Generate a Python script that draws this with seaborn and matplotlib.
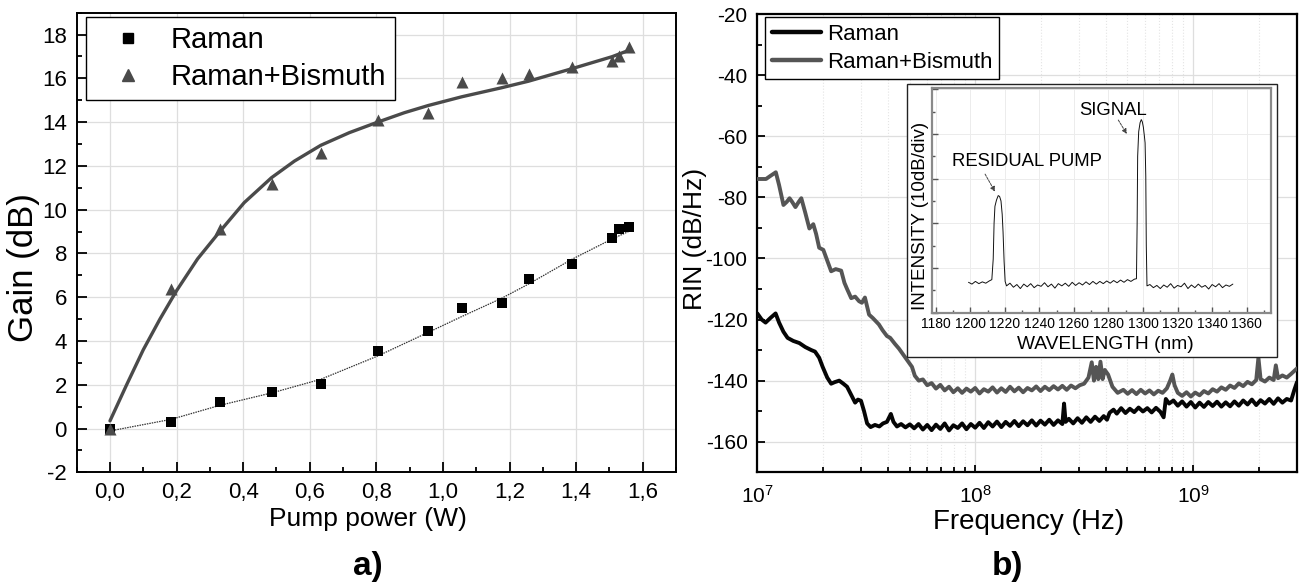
import numpy as np
import matplotlib
matplotlib.use("Agg")
import matplotlib.pyplot as plt
import seaborn as sns
from matplotlib.lines import Line2D
from matplotlib.patches import Rectangle
from matplotlib.ticker import MultipleLocator, FuncFormatter, LogLocator, LogFormatterMathtext, NullFormatter

# ---------------- data: panel a) ----------------
pump_power = [0.0, 0.184, 0.33, 0.487, 0.633, 0.805, 0.955, 1.057, 1.176, 1.257, 1.387, 1.508, 1.529, 1.559]
gain_raman = [0.0, 0.31, 1.22, 1.69, 2.02, 3.53, 4.44, 5.50, 5.74, 6.82, 7.50, 8.71, 9.10, 9.22]
gain_raman_bismuth = [0.0, 6.39, 9.13, 11.19, 12.60, 14.09, 14.43, 15.83, 16.01, 16.21, 16.53, 16.80, 17.00, 17.44]

fit_bi_x = [0.0, 0.05, 0.1, 0.15, 0.2, 0.263, 0.327, 0.403, 0.485, 0.554, 0.633, 0.719,
            0.804, 0.884, 0.956, 1.057, 1.176, 1.257, 1.387, 1.508, 1.56]
fit_bi_y = [0.35, 2.0, 3.6, 5.0, 6.3, 7.75, 8.95, 10.32, 11.46, 12.22, 12.94, 13.52,
            14.0, 14.43, 14.76, 15.16, 15.57, 15.87, 16.44, 16.99, 17.29]
fit_r_x = [0.0, 0.184, 0.33, 0.489, 0.633, 0.805, 0.954, 1.057, 1.176, 1.257, 1.387, 1.508, 1.56]
fit_r_y = [-0.11, 0.42, 1.06, 1.64, 2.25, 3.32, 4.38, 5.12, 5.95, 6.6, 7.73, 8.66, 9.02]

x_ticks_a = [0.0, 0.2, 0.4, 0.6, 0.8, 1.0, 1.2, 1.4, 1.6]
y_ticks_a = [-2, 0, 2, 4, 6, 8, 10, 12, 14, 16, 18]

# ---------------- data: panel b) (log10 frequency, RIN dB/Hz) ----------------
rin_bismuth_pts = [
    (7.00, -74.0), (7.04, -74.0), (7.06, -73.0), (7.085, -71.8), (7.10, -76.0), (7.12, -82.5),
    (7.135, -81.5), (7.148, -80.3), (7.16, -81.5), (7.175, -83.2), (7.19, -81.5), (7.202, -80.3),
    (7.22, -85.0), (7.239, -90.2), (7.257, -88.8), (7.27, -92.0), (7.284, -96.5), (7.303, -97.2),
    (7.32, -100.5), (7.339, -104.2), (7.36, -103.5), (7.385, -104.0), (7.40, -108.0), (7.412, -110.0),
    (7.431, -113.0), (7.449, -112.5), (7.467, -114.0), (7.48, -114.5), (7.494, -112.8), (7.513, -118.4),
    (7.53, -119.5), (7.558, -121.6), (7.575, -123.5), (7.595, -125.4), (7.61, -126.0), (7.632, -128.0),
    (7.65, -129.5), (7.668, -131.3), (7.68, -132.5), (7.695, -134.0), (7.71, -135.5), (7.723, -138.4),
    (7.741, -140.0), (7.76, -139.6), (7.78, -141.5), (7.80, -140.8), (7.82, -142.6), (7.84, -141.4),
    (7.86, -143.2), (7.88, -142.0), (7.90, -143.8), (7.92, -142.5), (7.94, -144.0), (7.96, -142.6),
    (7.98, -143.6), (8.00, -142.4), (8.02, -144.2), (8.04, -142.8), (8.06, -143.6), (8.08, -142.2),
    (8.10, -143.9), (8.12, -142.5), (8.14, -143.7), (8.16, -142.0), (8.18, -143.5), (8.20, -142.3),
    (8.22, -143.8), (8.24, -142.4), (8.26, -143.2), (8.28, -141.9), (8.30, -143.4), (8.32, -142.0),
    (8.34, -143.1), (8.36, -141.8), (8.38, -142.9), (8.40, -141.7), (8.42, -143.0), (8.44, -141.6),
    (8.46, -142.5), (8.48, -141.5), (8.50, -141.0), (8.52, -139.0), (8.535, -134.0), (8.545, -140.0),
    (8.555, -135.5), (8.565, -139.5), (8.575, -133.8), (8.585, -139.5), (8.595, -136.5), (8.61, -138.0),
    (8.63, -142.0), (8.654, -144.0), (8.68, -143.0), (8.70, -144.3), (8.72, -143.1), (8.74, -144.4),
    (8.76, -143.0), (8.78, -144.2), (8.80, -143.2), (8.82, -144.5), (8.84, -143.3), (8.86, -144.0),
    (8.88, -142.5), (8.895, -140.0), (8.905, -138.0), (8.915, -141.5), (8.93, -144.0), (8.95, -145.0),
    (8.97, -143.8), (8.99, -145.2), (9.01, -143.9), (9.03, -144.8), (9.05, -143.4), (9.07, -144.2),
    (9.09, -142.8), (9.11, -143.6), (9.13, -142.2), (9.15, -143.0), (9.17, -141.6), (9.19, -142.4),
    (9.21, -140.9), (9.23, -141.8), (9.25, -140.4), (9.27, -141.2), (9.29, -139.8), (9.30, -132.5),
    (9.31, -139.5), (9.33, -140.3), (9.35, -139.0), (9.37, -139.8), (9.38, -135.0), (9.39, -139.2),
    (9.41, -138.3), (9.43, -139.0), (9.45, -137.8), (9.465, -136.8), (9.477, -136.0),
]
rin_raman_pts = [
    (7.00, -118.0), (7.02, -120.0), (7.038, -121.0), (7.06, -119.5), (7.084, -118.0), (7.10, -121.0),
    (7.12, -124.0), (7.139, -126.0), (7.165, -127.0), (7.193, -127.7), (7.22, -129.0), (7.248, -130.0),
    (7.265, -130.5), (7.284, -132.5), (7.30, -135.5), (7.321, -139.0), (7.339, -141.0), (7.355, -140.5),
    (7.376, -140.0), (7.395, -141.0), (7.412, -142.0), (7.43, -144.5), (7.449, -147.2), (7.462, -146.2),
    (7.476, -146.6), (7.49, -150.0), (7.504, -154.0), (7.52, -155.2), (7.54, -154.5), (7.56, -155.0),
    (7.577, -154.0), (7.595, -153.5), (7.613, -150.9), (7.625, -153.5), (7.641, -155.0), (7.66, -154.2),
    (7.68, -155.3), (7.70, -154.3), (7.72, -155.6), (7.74, -154.2), (7.76, -156.0), (7.78, -154.5),
    (7.80, -156.2), (7.82, -154.4), (7.84, -155.8), (7.86, -154.0), (7.88, -156.3), (7.90, -154.6),
    (7.92, -155.5), (7.94, -154.0), (7.96, -155.9), (7.98, -154.2), (8.00, -155.4), (8.02, -153.8),
    (8.04, -155.5), (8.06, -153.6), (8.08, -155.0), (8.10, -153.4), (8.12, -155.2), (8.14, -153.5),
    (8.16, -154.8), (8.18, -153.2), (8.20, -154.9), (8.22, -153.3), (8.24, -154.6), (8.26, -153.0),
    (8.28, -154.7), (8.30, -153.1), (8.32, -154.4), (8.34, -152.8), (8.36, -154.5), (8.38, -153.0),
    (8.40, -154.2), (8.408, -147.5), (8.415, -153.5), (8.43, -152.5), (8.45, -154.0), (8.47, -152.3),
    (8.49, -153.8), (8.51, -152.0), (8.53, -153.5), (8.55, -151.8), (8.57, -153.2), (8.59, -151.6),
    (8.605, -152.8), (8.617, -150.5), (8.635, -149.5), (8.65, -150.8), (8.67, -149.0), (8.69, -150.6),
    (8.71, -149.2), (8.73, -150.3), (8.75, -148.8), (8.77, -150.1), (8.79, -149.0), (8.81, -150.4),
    (8.83, -148.9), (8.85, -150.2), (8.865, -152.0), (8.875, -146.0), (8.89, -147.5), (8.91, -146.5),
    (8.93, -148.2), (8.95, -146.8), (8.97, -148.5), (8.99, -147.0), (9.01, -148.8), (9.03, -147.2),
    (9.05, -148.6), (9.07, -147.0), (9.09, -148.3), (9.11, -146.9), (9.13, -148.5), (9.15, -147.1),
    (9.17, -148.4), (9.19, -146.8), (9.21, -148.2), (9.23, -146.5), (9.25, -147.8), (9.27, -146.2),
    (9.29, -148.0), (9.31, -146.4), (9.33, -147.5), (9.35, -146.0), (9.37, -147.6), (9.39, -145.8),
    (9.41, -147.2), (9.43, -146.0), (9.45, -146.5), (9.465, -143.0), (9.477, -140.5),
]

# ---------------- data: inset (wavelength nm, intensity dB) ----------------
spectrum_pts = [
    (1199, -53.2), (1201, -53.6), (1203, -53.0), (1205, -53.5), (1207, -53.1), (1209, -53.4),
    (1211, -52.9), (1212.5, -52.6), (1213.3, -48.0), (1213.8, -40.0), (1214.3, -36.2), (1215.2, -34.8),
    (1216.2, -33.8), (1217.0, -34.0), (1217.8, -35.0), (1218.5, -38.0), (1219.0, -42.0), (1219.6, -48.5),
    (1220.2, -53.0),
    (1221, -54.0), (1223, -53.4), (1225, -54.3), (1227, -53.7), (1229, -54.6), (1231, -53.6),
    (1233, -54.2), (1235, -53.5), (1237, -54.4), (1239, -53.8), (1241, -54.1), (1243, -53.3),
    (1245, -54.2), (1247, -53.6), (1249, -54.5), (1251, -53.5), (1253, -54.0), (1255, -53.4),
    (1257, -54.1), (1259, -53.2), (1261, -53.9), (1263, -53.3), (1265, -53.8), (1267, -53.1),
    (1269, -53.7), (1271, -53.0), (1273, -53.6), (1275, -53.0), (1277, -53.5), (1279, -52.9),
    (1281, -53.4), (1283, -52.8), (1285, -53.3), (1287, -52.7), (1289, -53.2), (1291, -52.6),
    (1293, -53.0), (1295, -52.5),
    (1296.2, -52.4), (1296.6, -40.0), (1296.9, -25.0), (1297.5, -19.5), (1298.3, -17.5), (1299.0, -16.8),
    (1299.6, -17.3), (1300.2, -18.5), (1300.8, -20.5), (1301.2, -22.0), (1301.6, -29.5), (1301.9, -45.0),
    (1302.3, -54.0),
    (1304, -53.7), (1306, -54.4), (1308, -53.9), (1310, -54.6), (1312, -53.8), (1314, -54.3),
    (1316, -53.5), (1318, -54.5), (1320, -53.9), (1322, -54.2), (1324, -53.4), (1326, -54.6),
    (1328, -53.8), (1330, -54.4), (1332, -53.6), (1334, -54.3), (1336, -53.9), (1338, -54.7),
    (1340, -53.7), (1342, -54.2), (1344, -53.5), (1346, -54.4), (1348, -53.8), (1350, -54.1),
    (1352, -53.6),
]
inset_x_ticks = [1180, 1200, 1220, 1240, 1260, 1280, 1300, 1320, 1340, 1360]

rin_bi_logf, rin_bi = zip(*rin_bismuth_pts)
rin_r_logf, rin_r = zip(*rin_raman_pts)
wl, inten = zip(*spectrum_pts)

# ---------------- style ----------------
sns.set_style("ticks")
plt.rcParams['font.family'] = ['Liberation Sans', 'DejaVu Sans']
plt.rcParams['mathtext.default'] = 'regular'
plt.rcParams['axes.unicode_minus'] = False
plt.rcParams['text.color'] = 'black'
plt.rcParams['axes.labelcolor'] = 'black'
plt.rcParams['xtick.color'] = 'black'
plt.rcParams['ytick.color'] = 'black'
plt.rcParams['axes.linewidth'] = 1.4

W, H = 1301, 584
fig = plt.figure(figsize=(13.01, 5.84), dpi=100)
fig.patch.set_facecolor('white')

def fx(px):
    return px / W

def fy(py):
    return 1 - py / H

GRAY_A = '#4a4a4a'
GRID = '#dedede'

# ================= panel a =================
ax1 = fig.add_axes([fx(76.7), fy(472.3), fx(676 - 76.7), (472.3 - 12.7) / H])
ax1.set_axisbelow(True)
ax1.grid(True, color=GRID, lw=0.9)
sns.lineplot(x=fit_bi_x, y=fit_bi_y, ax=ax1, color=GRAY_A, lw=2.4, sort=False, estimator=None, zorder=2)
sns.lineplot(x=fit_r_x, y=fit_r_y, ax=ax1, color='#333333', lw=0.9, sort=False, estimator=None,
             linestyle=(0, (1.2, 0.8)), zorder=2)
sns.scatterplot(x=pump_power, y=gain_raman, ax=ax1, marker='s', s=52, color='black', linewidth=0, zorder=4)
sns.scatterplot(x=pump_power, y=gain_raman_bismuth, ax=ax1, marker='^', s=75, color=GRAY_A, linewidth=0, zorder=4)
ax1.set_xlim(-0.1, 1.7)
ax1.set_ylim(-2, 19)
ax1.set_xticks(x_ticks_a)
ax1.set_yticks(y_ticks_a)
ax1.xaxis.set_minor_locator(MultipleLocator(0.1))
ax1.yaxis.set_minor_locator(MultipleLocator(1))
ax1.xaxis.set_major_formatter(FuncFormatter(lambda v, p: f"{v:.1f}".replace('.', ',')))
ax1.tick_params(which='both', direction='in', top=False, right=False, width=1.3)
ax1.tick_params(which='major', length=7, labelsize=16, pad=7)
ax1.tick_params(which='minor', length=3.5)
for s in ax1.spines.values():
    s.set_color('black')
    s.set_linewidth(1.4)
ax1.set_xlabel('Pump power (W)', fontsize=19)
ax1.set_ylabel('Gain (dB)', fontsize=25)
ax1.xaxis.set_label_coords(0.4854, -0.1023)
ax1.xaxis.label.set_va('center')
ax1.yaxis.set_label_coords(-0.088, 0.445)
ax1.yaxis.label.set_va('center')

h1 = [Line2D([], [], ls='none', marker='s', ms=7, color='black'),
      Line2D([], [], ls='none', marker='^', ms=8, color=GRAY_A)]
leg1 = ax1.legend(h1, ['Raman', 'Raman+Bismuth'], loc='upper left', bbox_to_anchor=(0.015, 0.99),
                  borderaxespad=0, fontsize=21, frameon=True, fancybox=False, framealpha=1,
                  edgecolor='black', handlelength=2.3, handletextpad=0.3, labelspacing=0.32, borderpad=0.3)
leg1.get_frame().set_linewidth(1.0)

# ================= panel b =================
ax2 = fig.add_axes([fx(757.3), fy(472.3), fx(1297 - 757.3), (472.3 - 14) / H])
ax2.set_axisbelow(True)
ax2.set_xscale('log')
ax2.grid(True, which='major', color=GRID, lw=0.9)
ax2.grid(True, which='minor', axis='x', color='#e4e4e4', lw=0.8, ls=':')
sns.lineplot(x=10 ** np.array(rin_bi_logf), y=rin_bi, ax=ax2, color='#555555', lw=2.8,
             sort=False, estimator=None, zorder=3)
sns.lineplot(x=10 ** np.array(rin_r_logf), y=rin_r, ax=ax2, color='#050505', lw=2.8,
             sort=False, estimator=None, zorder=3)
ax2.set_xlim(1e7, 3e9)
ax2.set_ylim(-170, -20)
ax2.yaxis.set_major_locator(MultipleLocator(20))
ax2.yaxis.set_minor_locator(MultipleLocator(10))
ax2.xaxis.set_major_locator(LogLocator(base=10))
ax2.xaxis.set_minor_locator(LogLocator(base=10, subs=np.arange(2, 10)))
ax2.xaxis.set_major_formatter(LogFormatterMathtext())
ax2.xaxis.set_minor_formatter(NullFormatter())
ax2.tick_params(which='both', direction='in', top=False, right=False, width=1.3)
ax2.tick_params(axis='y', which='major', length=6, labelsize=15, pad=7)
ax2.tick_params(axis='x', which='major', length=5, labelsize=15, pad=9)
ax2.tick_params(which='minor', length=3.5)
for s in ax2.spines.values():
    s.set_color('black')
    s.set_linewidth(1.6)
ax2.set_xlabel('Frequency (Hz)', fontsize=20)
ax2.set_ylabel('RIN (dB/Hz)', fontsize=19)
ax2.xaxis.set_label_coords(0.5021, -0.108)
ax2.xaxis.label.set_va('center')
ax2.yaxis.set_label_coords(-0.116, 0.509)
ax2.yaxis.label.set_va('center')

h2 = [Line2D([], [], color='#050505', lw=3.2), Line2D([], [], color='#555555', lw=3.2)]
leg2 = ax2.legend(h2, ['Raman', 'Raman+Bismuth'], loc='upper left', bbox_to_anchor=(0.0143, 0.993),
                  borderaxespad=0, fontsize=16, frameon=True, fancybox=False, framealpha=1,
                  edgecolor='black', handlelength=2.2, handletextpad=0.3, labelspacing=0.3, borderpad=0.3)
leg2.get_frame().set_linewidth(1.0)

# ================= inset =================
inset_family = ['Liberation Sans', 'DejaVu Sans']
fig.add_artist(Rectangle((fx(907.3), fy(356.7)), fx(1277.3 - 907.3), (356.7 - 84) / H,
                         transform=fig.transFigure, fill=True, facecolor='white', edgecolor='#222222',
                         lw=1.0, zorder=1))
ax3 = fig.add_axes([fx(931.7), fy(312.7), fx(1270.7 - 931.7), (312.7 - 88.3) / H], zorder=5)
ax3.set_facecolor('white')
ax3.set_axisbelow(True)
ax3.grid(True, color='#ececec', lw=0.7)
sns.lineplot(x=wl, y=inten, ax=ax3, color='#111111', lw=0.7, sort=False, estimator=None)
ax3.set_xlim(1177.7, 1373.9)
ax3.set_ylim(-60, -9.8)
ax3.set_xticks(inset_x_ticks)
ax3.xaxis.set_minor_locator(MultipleLocator(10))
ax3.yaxis.set_major_locator(MultipleLocator(10))
ax3.yaxis.set_minor_locator(MultipleLocator(5))
ax3.yaxis.set_major_formatter(NullFormatter())
ax3.tick_params(which='both', direction='in', top=False, right=False, width=1.0, color='#555555')
ax3.tick_params(which='major', length=4)
ax3.tick_params(which='minor', length=2.5)
ax3.tick_params(axis='x', labelsize=10, pad=3)
for s in ax3.spines.values():
    s.set_color('#8a8a8a')
    s.set_linewidth(1.6)
ax3.set_xlabel('WAVELENGTH (nm)', fontsize=13.8, family=inset_family)
ax3.set_ylabel('INTENSITY (10dB/div)', fontsize=13.5, family=inset_family)
ax3.xaxis.set_label_coords(0.513, -0.1395)
ax3.xaxis.label.set_va('center')
ax3.yaxis.set_label_coords(-0.032, 0.433)
ax3.yaxis.label.set_va('center')

arrow_style = dict(arrowstyle='-|>', color='#444444', lw=0.7, mutation_scale=7,
                   shrinkA=0, shrinkB=0, linestyle=(0, (2.5, 1.2)))
ax3.text(1189.3, -26.2, 'RESIDUAL PUMP', fontsize=13.3, family=inset_family, ha='left', va='center')
ax3.annotate('', xy=(1214.3, -32.9), xytext=(1208.6, -29.0), arrowprops=arrow_style)
ax3.text(1263.0, -14.8, 'SIGNAL', fontsize=13.3, family=inset_family, ha='left', va='center')
ax3.annotate('', xy=(1290.6, -20.0), xytext=(1285.7, -16.9), arrowprops=arrow_style)

# ================= panel tags =================
fig.text(fx(368), fy(566.7), 'a)', fontsize=24, fontweight='bold', ha='center', va='center')
fig.text(fx(1007), fy(566.7), 'b)', fontsize=24, fontweight='bold', ha='center', va='center')

fig.savefig('out.png', dpi=100, facecolor='white')
